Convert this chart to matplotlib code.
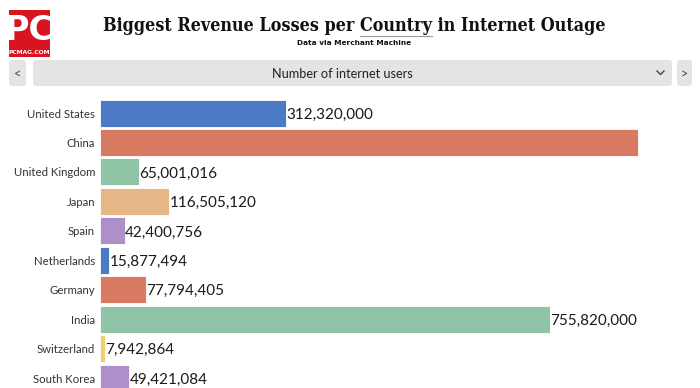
import matplotlib
matplotlib.use("Agg")
import matplotlib.pyplot as plt
import matplotlib.patches as patches

# data
countries = ["United States", "China", "United Kingdom", "Japan", "Spain",
             "Netherlands", "Germany", "India", "Switzerland", "South Korea"]
users = [312320000, 903600000, 65001016, 116505120, 42400756,
         15877494, 77794405, 755820000, 7942864, 49421084]
show_label = [True, False, True, True, True, True, True, True, True, True]
colors = ["#4a7bc4", "#d97a62", "#8fc4a7", "#e8b787", "#ae8fc9",
          "#4a7bc4", "#d97a62", "#8fc4a7", "#f0cf6f", "#ae8fc9"]

title_a = "Biggest Revenue Losses per "
title_b = "Country"
title = title_a + title_b + " in Internet Outage"
subtitle = "Data via Merchant Machine"
dropdown = "Number of internet users"

W, H = 700, 388
fig = plt.figure(figsize=(W / 100, H / 100), dpi=100, facecolor="white")

# overlay axes in pixel coordinates for header widgets
ov = fig.add_axes([0, 0, 1, 1])
ov.set_xlim(0, W)
ov.set_ylim(H, 0)
ov.axis("off")

# PC logo
ov.add_patch(patches.Rectangle((9, 10), 41, 47, facecolor="#d7141f", edgecolor="none"))
ov.text(29.5, 30, "PC", color="white", fontsize=24, fontweight="bold",
        family="Liberation Sans Narrow", ha="center", va="center")
ov.text(29.5, 52.5, "PCMAG.COM", color="white", fontsize=4.3, fontweight="bold",
        family="Liberation Sans Narrow", ha="center", va="center")

# title with underline under "Country"
tkw = dict(fontsize=12.9, fontweight="bold", family="DejaVu Serif", stretch="condensed",
           color="#111111")
t = ov.text(354, 26, title, ha="center", va="center", **tkw)
r = fig.canvas.get_renderer()
full_w = t.get_window_extent(r).width
tmp = ov.text(0, 0, title_a.replace(" ", "\u00a0"), **tkw)
pre_w = tmp.get_window_extent(r).width
tmp.set_text(title_b)
word_w = tmp.get_window_extent(r).width
tmp.remove()
x0 = 354 - full_w / 2 + pre_w
ov.plot([x0, x0 + word_w], [36, 36], color="#999999", lw=0.8)
ov.text(354, 43, subtitle, fontsize=5.3, fontweight="bold", family="Liberation Sans Narrow",
        ha="center", va="center", color="#111111")

# dropdown + arrows
gray = "#e4e4e4"
for x, w in [(33, 639), (9, 17), (677, 15)]:
    ov.add_patch(patches.FancyBboxPatch((x, 60), w, 26, boxstyle="round,pad=0,rounding_size=3",
                                        facecolor=gray, edgecolor="none"))
ov.text(342, 74, dropdown, fontsize=9.2, family="Lato", ha="center", va="center",
        color="#222222")
ov.text(17.5, 74, "<", fontsize=9, family="Lato", ha="center", va="center", color="#444444")
ov.text(684.5, 74, ">", fontsize=9, family="Lato", ha="center", va="center", color="#444444")
ov.plot([657, 660.5, 664], [71, 74.5, 71], color="#444444", lw=1)

# bar chart axes: rows 29.45 px apart, first row centre at y=113
row = 29.45
top_px = 113 - row / 2
ax_h = H - top_px
ax = fig.add_axes([100 / W, 0, 600 / W, ax_h / H])
ypos = list(range(len(countries)))
ax.barh(ypos, users, height=27 / row, color=colors, edgecolor="white", linewidth=0.6)
ax.set_ylim(-0.5 + ax_h / row, -0.5)
ax.set_xlim(0, 600 / 0.5952 * 1e6)
for y, v, s in zip(ypos, users, show_label):
    if s:
        ax.annotate("{:,}".format(v), (v, y), xytext=(0, -1.2), textcoords="offset points",
                    fontsize=11, family="Lato", va="center", ha="left", color="#1a1a1a",
                    annotation_clip=True)
for y, c in zip(ypos, countries):
    ov.text(95, 114 + row * y, c, fontsize=8.2, family="Lato", ha="right",
            va="center", color="#333333")
ax.axis("off")
ov.set_zorder(ax.get_zorder() + 1)
ov.patch.set_alpha(0)

fig.savefig("out.png", dpi=100, facecolor="white")
